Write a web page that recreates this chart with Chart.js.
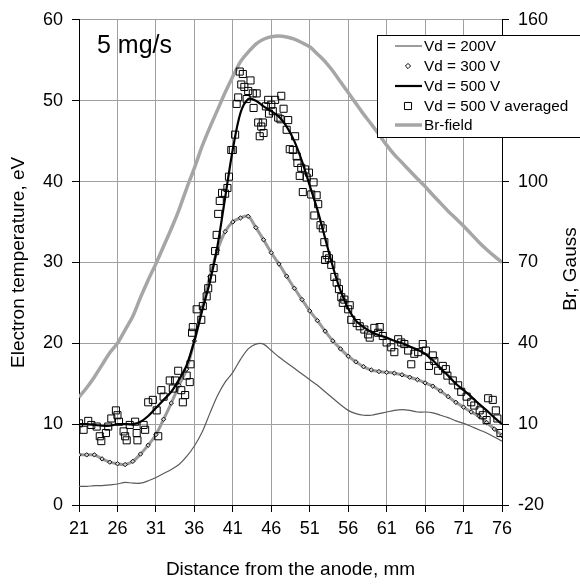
<!DOCTYPE html>
<html>
<head>
<meta charset="utf-8">
<script src="https://cdn.jsdelivr.net/npm/chart.js@4.4.0/dist/chart.umd.min.js"></script>
<style>
  html, body { margin: 0; padding: 0; background: #fff; }
  canvas { display: block; }
</style>
</head>
<body>
<canvas id="teChart" width="580" height="584"></canvas>
<script>
// distance from the anode, mm
const distance = [21, 22, 23, 24, 25, 26, 27, 28, 29, 30, 31, 32, 33, 34, 35, 36, 37, 38, 39, 40,
  41, 42, 43, 44, 45, 46, 47, 48, 49, 50, 51, 52, 53, 54, 55, 56, 57, 58, 59, 60,
  61, 62, 63, 64, 65, 66, 67, 68, 69, 70, 71, 72, 73, 74, 75, 76];

// electron temperature, eV
const te200 = [2.3, 2.3, 2.4, 2.4, 2.5, 2.6, 2.8, 2.7, 2.7, 3.0, 3.4, 3.9, 4.4, 5.0, 6.0, 7.3, 9.0, 11.3, 13.5, 15.2,
  16.4, 18.0, 19.3, 19.9, 19.9, 19.1, 18.3, 17.6, 16.9, 16.2, 15.5, 14.8, 14.0, 13.2, 12.4, 11.7, 11.3, 11.1, 11.1, 11.3,
  11.5, 11.7, 11.8, 11.7, 11.5, 11.5, 11.4, 11.1, 10.8, 10.4, 10.1, 9.7, 9.3, 8.9, 8.4, 7.9];
const te300 = [6.2, 6.2, 6.2, 5.7, 5.3, 5.1, 5.0, 5.4, 6.3, 7.4, 8.7, 10.6, 12.6, 14.8, 16.8, 20.3, 24.3, 28.2, 31.5, 33.8,
  35.0, 35.5, 35.7, 34.3, 32.8, 31.2, 29.8, 28.3, 26.8, 25.4, 24.0, 22.8, 21.5, 20.3, 19.3, 18.4, 17.7, 17.1, 16.7, 16.5,
  16.4, 16.3, 16.1, 15.8, 15.5, 15.1, 14.7, 14.1, 13.4, 12.7, 12.1, 11.5, 11.0, 10.2, 9.4, 8.6];
const te500 = [10.0, 10.0, 9.9, 9.8, 9.8, 10.0, 10.0, 10.0, 10.3, 11.0, 12.0, 13.0, 14.0, 15.5, 17.3, 20.3, 24.0, 27.5, 32.0, 38.0,
  44.0, 48.5, 50.2, 50.0, 49.3, 48.7, 48.0, 46.8, 45.0, 42.5, 39.5, 36.5, 33.0, 29.5, 26.5, 24.3, 22.8, 22.0, 21.4, 21.0,
  20.7, 20.3, 20.0, 19.6, 19.2, 18.7, 17.9, 16.9, 16.0, 15.0, 14.2, 13.4, 12.5, 11.7, 10.8, 10.0];

// Br-field, Gauss
const brField = [20, 23.5, 27.5, 32, 36.5, 40, 45, 50, 57, 63.5, 69.5, 76, 82.5, 89.5, 97.5, 105, 113, 120, 126.5, 133,
  139, 144.5, 148, 151, 152.8, 153.7, 154, 153.6, 152.8, 151.5, 150, 147.3, 144.5, 141, 137, 133, 129, 125, 121.3, 117.5,
  113.5, 110, 107, 104, 101, 98.2, 95, 92, 89, 86.3, 83.5, 80.5, 77.5, 74.8, 72.3, 70];

// Vd = 500 V averaged (scatter)
const avgDistance = [21, 21.6, 22.2, 22.6, 23.3, 23.7, 23.9, 24.5, 24.8, 25.2, 25.8, 26, 26.2, 26.8, 27, 27.2, 27.6, 28.3, 28.5, 28.6,
  29.4, 29.6, 30, 30.6, 31.1, 31.3, 31.7, 32, 32.8, 33.2, 33.5, 33.9, 34.3, 34.5, 34.8, 35, 35.4, 35.5, 35.7, 35.8,
  36.3, 36.9, 37.1, 37.6, 37.8, 38.3, 38.5, 38.7, 38.9, 39.1, 39.3, 39.6, 40, 40.3, 40.5, 40.8, 41, 41.3, 41.5, 41.7,
  41.9, 42.1, 42.3, 42.5, 42.8, 43, 43.3, 43.6, 43.7, 44.1, 44.3, 44.5, 44.7, 44.9, 45, 45.3, 45.6, 45.7, 46, 46.2,
  46.5, 46.9, 47.2, 47.3, 47.6, 48, 48.2, 48.4, 48.8, 49.1, 49.3, 49.4, 49.7, 49.9, 50.1, 50.4, 50.6, 50.9, 51.2, 51.5,
  51.6, 51.9, 52.1, 52.4, 52.7, 52.9, 53, 53.2, 53.5, 53.8, 54.2, 54.5, 54.8, 55.1, 55.3, 55.5, 56, 56.2, 56.4, 57.1,
  57.5, 58.1, 58.6, 58.8, 59.4, 59.9, 60.1, 60.5, 61, 61.6, 62, 62.5, 62.9, 63.3, 63.8, 64.2, 64.6, 65.1, 65.7, 66.1,
  66.5, 67, 67.2, 67.7, 68.3, 68.7, 68.9, 69.6, 70.3, 70.7, 71.4, 72, 72.4, 73.1, 73.5, 74, 74.2, 74.8, 75.2, 75.4, 75.8];
const avgTe = [10.1, 9.3, 10.4, 9.9, 9.7, 8.5, 7.9, 8.9, 9.7, 10.7, 11.7, 11.1, 10.3, 9.1, 8.5, 8.0, 9.9, 10.3, 8.9, 8.0,
  9.9, 9.3, 12.7, 13.0, 11.7, 8.5, 14.2, 13.4, 15.4, 14.4, 15.4, 16.6, 14.2, 12.7, 13.6, 16.0, 15.2, 17.4, 21.3, 22.0,
  24.2, 22.9, 24.6, 25.8, 26.8, 28.0, 29.3, 31.4, 33.4, 36.0, 37.6, 38.6, 38.5, 39.2, 40.6, 43.9, 43.9, 45.8, 49.6, 50.4,
  53.6, 52.0, 53.3, 51.7, 50.2, 51.2, 52.5, 50.9, 49.1, 50.9, 47.3, 45.6, 46.8, 47.3, 46.0, 49.3, 50.1, 48.4, 49.5, 48.7,
  50.1, 47.9, 47.7, 50.6, 49.0, 46.4, 47.6, 44.0, 43.9, 45.6, 43.1, 42.3, 40.7, 41.7, 38.7, 41.5, 40.5, 41.1, 38.4, 39.9,
  35.8, 38.3, 37.2, 34.6, 34.2, 32.5, 30.3, 30.9, 30.5, 29.7, 28.2, 27.5, 26.7, 25.7, 25.0, 25.4, 24.2, 24.7, 22.9, 22.5,
  22.1, 21.7, 21.1, 20.7, 21.9, 21.3, 22.0, 20.9, 20.1, 19.5, 18.9, 20.5, 20.1, 19.9, 19.1, 17.4, 18.7, 18.9, 19.9, 19.1,
  17.2, 18.5, 17.8, 16.6, 17.2, 16.8, 16.0, 15.4, 14.8, 14.0, 13.4, 12.7, 12.3, 11.7, 11.1, 10.5, 13.2, 13.0, 11.7, 10.7, 8.9];

const distanceTicks = [21, 26, 31, 36, 41, 46, 51, 56, 61, 66, 71, 76];
const brTicks = [-20, 10, 40, 70, 100, 130, 160];

const flowLabel = '5 mg/s';
const FONT = '"Liberation Sans", Arial, sans-serif';

function toPoints(xs, ys) {
  return xs.map((x, i) => ({ x: x, y: ys[i] }));
}

// legend box, right title and the flow label
const overlay = {
  id: 'overlay',
  afterDraw(chart) {
    const ctx = chart.ctx;
    ctx.save();

    ctx.fillStyle = '#000';
    ctx.font = '25px ' + FONT;
    ctx.textAlign = 'left';
    ctx.textBaseline = 'alphabetic';
    ctx.fillText(flowLabel, 97, 53);

    ctx.save();
    ctx.translate(571, 269);
    ctx.rotate(-Math.PI / 2);
    ctx.font = '19px ' + FONT;
    ctx.textAlign = 'center';
    ctx.textBaseline = 'middle';
    ctx.fillText('Br, Gauss', 0, 0);
    ctx.restore();

    // legend
    ctx.fillStyle = '#fff';
    ctx.fillRect(377.5, 35.5, 220, 102);
    ctx.strokeStyle = '#000';
    ctx.lineWidth = 1;
    ctx.strokeRect(377.5, 35.5, 220, 102);

    const rows = [46, 66, 86, 106, 125];
    ctx.font = '15.3px ' + FONT;
    ctx.textBaseline = 'middle';
    chart.data.datasets.forEach((ds, i) => {
      const y = rows[i];
      ctx.save();
      if (ds.legendMarker) {
        ctx.fillStyle = '#fff';
        ctx.strokeStyle = '#000';
        ctx.lineWidth = 1;
        Chart.helpers.drawPoint(ctx, {
          pointStyle: ds.pointStyle, radius: ds.legendMarker, rotation: 0, borderWidth: 1
        }, 408, y);
      } else {
        ctx.strokeStyle = ds.borderColor;
        ctx.lineWidth = ds.borderWidth;
        ctx.beginPath();
        ctx.moveTo(395, y);
        ctx.lineTo(422, y);
        ctx.stroke();
      }
      ctx.restore();
      ctx.fillStyle = '#000';
      ctx.fillText(ds.label, 424, y + 1);
    });
    ctx.restore();
  }
};

new Chart(document.getElementById('teChart'), {
  type: 'line',
  data: {
    datasets: [
      {
        label: 'Vd = 200V',
        data: toPoints(distance, te200),
        borderColor: '#5a5a5a',
        borderWidth: 1.2,
        pointRadius: 0,
        tension: 0.3,
        order: 3
      },
      {
        label: 'Vd = 300 V',
        data: toPoints(distance, te300),
        borderColor: '#9a9a9a',
        borderWidth: 3,
        tension: 0.3,
        pointStyle: 'rectRot',
        pointRadius: 2.2,
        legendMarker: 2.6,
        pointBorderWidth: 1,
        pointBorderColor: '#111',
        pointBackgroundColor: '#d0d0d0',
        order: 2
      },
      {
        label: 'Vd = 500 V',
        data: toPoints(distance, te500),
        borderColor: '#000',
        borderWidth: 2.2,
        pointRadius: 0,
        tension: 0.3,
        order: 1
      },
      {
        label: 'Vd = 500 V averaged',
        data: toPoints(avgDistance, avgTe),
        showLine: false,
        pointStyle: 'rect',
        pointRadius: 5,
        legendMarker: 5,
        pointBorderWidth: 1,
        pointBorderColor: '#000',
        pointBackgroundColor: 'rgba(255,255,255,0)',
        order: 0
      },
      {
        label: 'Br-field',
        data: toPoints(distance, brField),
        yAxisID: 'yBr',
        borderColor: '#a6a6a6',
        borderWidth: 3.5,
        pointRadius: 0,
        tension: 0.3,
        order: 4
      }
    ]
  },
  options: {
    responsive: false,
    animation: false,
    devicePixelRatio: 1,
    layout: { padding: { top: 15, left: 0, right: 0, bottom: 0 } },
    plugins: {
      legend: { display: false },
      tooltip: { enabled: false }
    },
    scales: {
      x: {
        type: 'linear',
        min: 21,
        max: 76,
        afterBuildTicks: s => { s.ticks = distanceTicks.map(v => ({ value: v })); },
        afterFit: s => { s.height = 79; },
        grid: { color: '#a0a0a0', tickColor: '#000', tickLength: 7 },
        border: { color: '#000', width: 1 },
        ticks: { color: '#000', font: { family: FONT, size: 18 }, padding: 6, maxRotation: 0 },
        title: {
          display: true,
          text: 'Distance from the anode, mm',
          color: '#000',
          font: { family: FONT, size: 19 },
          padding: { top: 0, bottom: 3 }
        }
      },
      y: {
        position: 'left',
        min: 0,
        max: 60,
        ticks: { stepSize: 10, color: '#000', font: { family: FONT, size: 18 }, padding: 9 },
        afterFit: s => { s.width = 79; },
        grid: { color: '#a0a0a0', tickColor: '#000', tickLength: 7 },
        border: { color: '#000', width: 1 },
        title: {
          display: true,
          text: 'Electron temperature, eV',
          color: '#000',
          font: { family: FONT, size: 19 },
          padding: { top: 7, bottom: 0 }
        }
      },
      yBr: {
        position: 'right',
        min: -20,
        max: 160,
        afterBuildTicks: s => { s.ticks = brTicks.map(v => ({ value: v })); },
        afterFit: s => { s.width = 78; },
        ticks: { color: '#000', font: { family: FONT, size: 18 }, padding: 9 },
        grid: { drawOnChartArea: false, tickColor: '#000', tickLength: 7 },
        border: { color: '#000', width: 1 }
      }
    }
  },
  plugins: [overlay]
});
</script>
</body>
</html>
